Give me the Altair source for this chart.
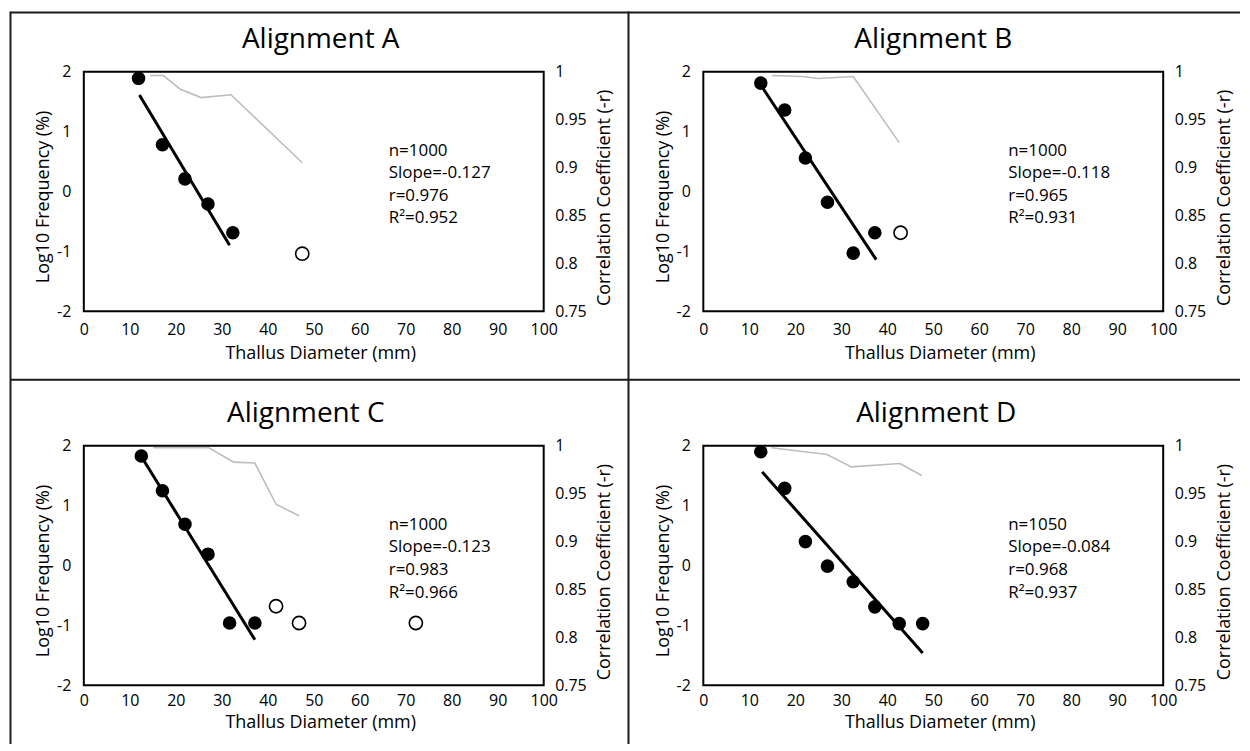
import altair as alt
import pandas as pd

FONT = "Open Sans"

# ---------------- data ----------------
panel_titles = ["Alignment A", "Alignment B", "Alignment C", "Alignment D"]

x_ticks = [0, 10, 20, 30, 40, 50, 60, 70, 80, 90, 100]
y_ticks = [-2, -1, 0, 1, 2]
r_ticks = [0.75, 0.8, 0.85, 0.9, 0.95, 1]

# Alignment A
A_fill_x = [11.9, 17.1, 22.0, 27.0, 32.4]
A_fill_y = [1.89, 0.78, 0.21, -0.21, -0.69]
A_open_x = [47.5]
A_open_y = [-1.04]
A_fit_x = [12.1, 31.7]
A_fit_y = [1.61, -0.90]
A_corr_x = [14.4, 17.3, 20.9, 25.5, 32.0, 47.5]
A_corr_r = [0.996, 0.996, 0.982, 0.973, 0.976, 0.905]
A_stats = ["n=1000", "Slope=-0.127", "r=0.976", "R²=0.952"]

# Alignment B
B_fill_x = [12.5, 17.7, 22.2, 27.0, 32.6, 37.3]
B_fill_y = [1.81, 1.36, 0.56, -0.18, -1.03, -0.69]
B_open_x = [42.9]
B_open_y = [-0.69]
B_fit_x = [13.0, 37.6]
B_fit_y = [1.72, -1.14]
B_corr_x = [14.9, 21.5, 25.0, 32.6, 42.6]
B_corr_r = [0.996, 0.995, 0.993, 0.995, 0.926]
B_stats = ["n=1000", "Slope=-0.118", "r=0.965", "R²=0.931"]

# Alignment C
C_fill_x = [12.5, 17.1, 22.0, 27.0, 31.7, 37.2]
C_fill_y = [1.83, 1.25, 0.69, 0.19, -0.96, -0.96]
C_open_x = [41.8, 46.8, 72.2]
C_open_y = [-0.68, -0.96, -0.96]
C_fit_x = [12.6, 37.2]
C_fit_y = [1.81, -1.24]
C_corr_x = [15.1, 27.2, 32.6, 37.2, 41.8, 46.8]
C_corr_r = [0.998, 0.998, 0.983, 0.982, 0.939, 0.927]
C_stats = ["n=1000", "Slope=-0.123", "r=0.983", "R²=0.966"]

# Alignment D
D_fill_x = [12.5, 17.7, 22.2, 27.0, 32.6, 37.3, 42.6, 47.7]
D_fill_y = [1.90, 1.29, 0.40, -0.01, -0.27, -0.69, -0.97, -0.97]
D_open_x = []
D_open_y = []
D_fit_x = [12.8, 47.7]
D_fit_y = [1.565, -1.46]
D_corr_x = [14.8, 26.9, 32.2, 42.75, 47.5]
D_corr_r = [0.998, 0.991, 0.978, 0.9815, 0.969]
D_stats = ["n=1050", "Slope=-0.084", "r=0.968", "R²=0.937"]

# ---------------- layout constants ----------------
W, H = 461, 240
STATS_X, STATS_Y = 66.3, 0.683

xs = alt.Scale(domain=[0, 100], nice=False, zero=False)
ys = alt.Scale(domain=[-2, 2], nice=False, zero=False)
rs = alt.Scale(domain=[0.75, 1], nice=False, zero=False)


def frame_rules():
    one = pd.DataFrame({"k": [0]})
    base = alt.Chart(one).mark_rule(color="#1a1a1a", strokeWidth=2)
    top = base.encode(x=alt.value(-73.5), x2=alt.value(1159), y=alt.value(-59.3))
    left = base.encode(x=alt.value(-73.5), y=alt.value(-60.3), y2=alt.value(674))
    vdiv = base.encode(x=alt.value(546), y=alt.value(-60.3), y2=alt.value(674))
    hdiv = base.encode(x=alt.value(-73.5), x2=alt.value(1159), y=alt.value(308.7))
    return [top, left, vdiv, hdiv]


def make_panel(title, fill_x, fill_y, open_x, open_y, fit_x, fit_y,
               corr_x, corr_r, stats, top_row, title_dx, with_frame=False):
    x_axis = alt.Axis(
        values=x_ticks, title="Thallus Diameter (mm)", grid=False, ticks=False,
        tickSize=0, domain=False, labelPadding=10 if top_row else 7,
        labelFlush=False, labelOverlap=False,
        labelExpr="datum.value + ''", titleX=237, titleY=42 if top_row else 37,
        titleAlign="center", titleBaseline="middle",
    )
    y_axis = alt.Axis(
        values=y_ticks, title="Log10 Frequency (%)", orient="left", grid=False,
        ticks=False, tickSize=0, domain=False, labelPadding=13,
        labelFlush=False, labelOverlap=False,
        labelExpr="datum.value + ''", titleX=-40, titleY=125, titleAngle=270,
        titleAlign="center", titleBaseline="middle",
    )
    r_axis = alt.Axis(
        values=r_ticks, title="Correlation Coefficient (-r)", orient="right",
        grid=False, ticks=False, tickSize=0, domain=False, labelPadding=11,
        labelFlush=False, labelOverlap=False,
        labelExpr="datum.value + ''", titleX=61, titleY=126, titleAngle=270,
        titleAlign="center", titleBaseline="middle",
    )

    fit_df = pd.DataFrame({"x": fit_x, "y": fit_y})
    fill_df = pd.DataFrame({"x": fill_x, "y": fill_y})
    open_df = pd.DataFrame({"x": open_x, "y": open_y}, dtype=float)
    corr_df = pd.DataFrame({"x": corr_x, "r": corr_r})
    stats_df = pd.DataFrame({"x": [STATS_X], "y": [STATS_Y], "t": ["\n".join(stats)]})
    title_df = pd.DataFrame({"t": [title]})

    fit = alt.Chart(fit_df).mark_line(color="black", strokeWidth=3).encode(
        x=alt.X("x:Q", scale=xs, axis=x_axis),
        y=alt.Y("y:Q", scale=ys, axis=y_axis),
    )
    fill = alt.Chart(fill_df).mark_circle(size=185, color="black", opacity=1).encode(
        x=alt.X("x:Q", scale=xs), y=alt.Y("y:Q", scale=ys),
    )
    layers = [fit, fill]
    if len(open_x):
        opn = alt.Chart(open_df).mark_point(
            shape="circle", size=175, filled=False, color="black", strokeWidth=1.6,
            opacity=1,
        ).encode(x=alt.X("x:Q", scale=xs), y=alt.Y("y:Q", scale=ys))
        layers.append(opn)
    txt = alt.Chart(stats_df).mark_text(
        align="left", baseline="middle", lineBreak="\n", lineHeight=22.7,
        fontSize=17, font=FONT, color="black",
    ).encode(x=alt.X("x:Q", scale=xs), y=alt.Y("y:Q", scale=ys), text="t:N")
    layers.append(txt)
    ttl = alt.Chart(title_df).mark_text(
        align="center", baseline="alphabetic", fontSize=28, font=FONT, color="black",
    ).encode(x=alt.value(W / 2 + title_dx), y=alt.value(-24), text="t:N")
    layers.append(ttl)
    if with_frame:
        layers += frame_rules()

    left_group = alt.layer(*layers)
    corr = alt.Chart(corr_df).mark_line(color="#bdbdbd", strokeWidth=1.6).encode(
        x=alt.X("x:Q", scale=xs),
        y=alt.Y("r:Q", scale=rs, axis=r_axis),
    )
    return alt.layer(left_group, corr).resolve_scale(y="independent").properties(
        width=W, height=H
    )


pA = make_panel(panel_titles[0], A_fill_x, A_fill_y, A_open_x, A_open_y, A_fit_x,
                A_fit_y, A_corr_x, A_corr_r, A_stats, True, 7, with_frame=True)
pB = make_panel(panel_titles[1], B_fill_x, B_fill_y, B_open_x, B_open_y, B_fit_x,
                B_fit_y, B_corr_x, B_corr_r, B_stats, True, 0)
pC = make_panel(panel_titles[2], C_fill_x, C_fill_y, C_open_x, C_open_y, C_fit_x,
                C_fit_y, C_corr_x, C_corr_r, C_stats, False, -8)
pD = make_panel(panel_titles[3], D_fill_x, D_fill_y, D_open_x, D_open_y, D_fit_x,
                D_fit_y, D_corr_x, D_corr_r, D_stats, False, 3)

chart = alt.concat(
    pA, pB, pC, pD, columns=2, spacing={"row": 135, "column": 160}, bounds="flush"
).properties(padding=0, background="white").configure_view(
    stroke="black", strokeWidth=2
).configure_axis(
    labelFont=FONT, titleFont=FONT, labelFontSize=16, titleFontSize=18,
    labelColor="black", titleColor="black", titleFontWeight="normal",
)

chart.save("out.html", embed_options={"renderer": "svg", "actions": False})
